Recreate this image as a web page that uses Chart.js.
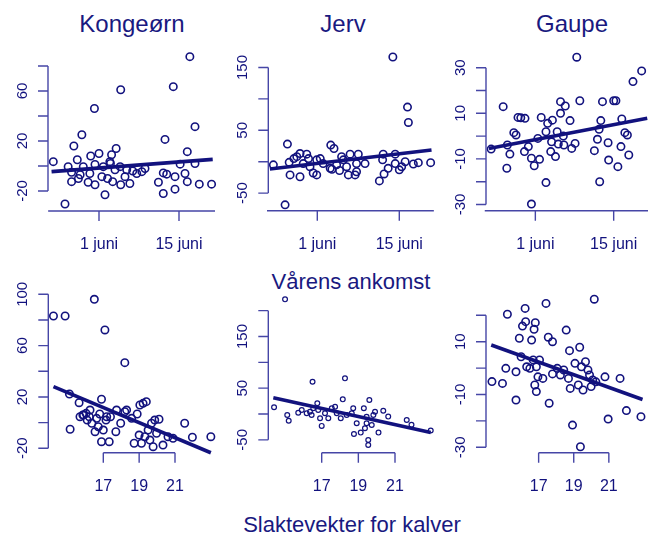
<!DOCTYPE html>
<html>
<head>
<meta charset="utf-8">
<script src="https://cdn.jsdelivr.net/npm/chart.js@4/dist/chart.umd.min.js"></script>
<style>
  body { margin: 0; background: #fff; }
  #wrap { position: relative; width: 648px; height: 542px; overflow: hidden; }
  #wrap canvas { position: absolute; left: 0; top: 0; }
  .lbl {
    position: absolute; white-space: nowrap; transform: translateX(-50%);
    font-family: 'Liberation Sans', Arial, sans-serif; color: #191980; line-height: 1;
  }
</style>
</head>
<body>
<div id="wrap">
  <div class="lbl" style="left:132px;top:12px;font-size:24px">Kongeørn</div>
  <div class="lbl" style="left:343px;top:12px;font-size:24px">Jerv</div>
  <div class="lbl" style="left:572px;top:12px;font-size:24px">Gaupe</div>
  <div class="lbl" style="left:351px;top:271px;font-size:22px">Vårens ankomst</div>
  <div class="lbl" style="left:352px;top:514px;font-size:22px">Slaktevekter for kalver</div>
</div>
<script>
// x axis of the top row: days after 1 June
const dateTickDays = [0, 14];
const dateTickLabels = ['1 juni', '15 juni'];
// x axis of the bottom row: calf weight
const weightTicks = [17, 19, 21];
const weightTickLabels = ['17', '19', '21'];

// Kongeørn (arrival)
const kongeornDays = [-8.0, -5.95, -0.8, 3.8, -3.0, -4.4, -3.8, -1.45, 0, 3.0, 2.2, 1.9, -5.4, -4.8, -4.8, -3.3, -1.9, -1.6,
  -0.7, -0.7, 0.5, 1.05, 2.4, 2.8, 3.8, 4.55, 5.4, 6.6, 7.5, 8.05, -2.75, 0.75, 3.7, 4.85, 5.9, 15.9, 13.0, 16.8,
  11.55, 15.45, 16.8, 14.2, 11.25, 11.85, 13.3, 15.05, 10.4, 11.25, 13.3, 15.45, 17.55, 19.7, -3.6, 1.5, 2.0];
const kongeornValues = [3.5, -30.4, 46, 61, 25, 16, 5, 8, 10, 14, 9, 3.5, -0.5, -5, -12.5, -7, -13, -6,
  1.3, -15, -8.5, -23, -12.5, -3, -15, -8.5, -14, -6, -4.5, -2, -0.5, -0.5, -0.5, -3, -4, 87.5, 63.5, 31.5,
  21.3, 11.5, 2, 1.5, -5.5, -6.5, -8.5, -6, -13, -22, -18.5, -12.5, -14.5, -14.5, -10, -10, 2];
const kongeornFitDays = [-8.3, 19.9];
const kongeornFitValues = [-4.5, 5.3];
const kongeornTicks = [-20, 0, 20, 40, 60, 80];
const kongeornLabels = [-20, 20, 60];

// Jerv (arrival)
const jervDays = [-5.5, -7.5, -5.1, -4.8, -4.65, -2.95, -3.5, -2.95, -1.8, -1.5, -2.4, -1.25, -0.7, -0.1, -0.1, 1.0,
  2.3, 2.85, 2.2, 3.3, 4.15, 4.45, 5.3, 5.6, 6.45, 6.7, 7.0, 6.7, 8.15, 10.6, 11.4, 12.1, 11.25, 11.15, 12.9,
  13.3, 13.3, 14.0, 14.4, 15.0, 15.4, 15.55, 16.4, 17.25, 19.35, -4.0, 2.5, 0.5, 3.8, 5.0];
const jervValues = [-68.7, -5, 28, -1, -21, -24, 8, 13, 12, 5, -3, -8, -18, -21, 3, -3,
  26.5, 21, -10.5, -5, 8, 3, -21, 12, -21, -16, 12, -3, -3, -30.6, -19.5, -10.5, 12, 3, 166.7,
  12, -3, -13, -8, 0, 87, 62.5, -3.7, -1.5, -1.5, 5, -12, 5, -14, -8];
const jervFitDays = [-8.1, 19.5];
const jervFitValues = [-11.6, 18.6];
const jervTicks = [-50, 0, 50, 100, 150];
const jervLabels = [-50, 50, 150];

// Gaupe (arrival)
const gaupeDays = [-7.9, -5.75, -5.1, -5.0, -4.55, -3.85, -3.45, -3.1, -2.6, -1.85, -1.95, -1.25, -0.7, -0.2, -0.7,
  0.75, 0.45, 1.05, 1.9, 1.9, 2.2, 2.75, 3.05, 3.6, 3.9, 4.5, 4.5, 5.35, 5.1, 6.2, 6.5, 7.1, 7.4, 7.95, 10.55,
  11.1, 11.4, 11.5, 11.7, 12.0, 13.0, 13.1, 14.0, 14.4, 14.75, 15.3, 15.45, 16.0, 16.45, 16.7, 17.45, 19.0,
  2.9, 4.1, 5.0];
const gaupeValues = [-5.7, 12.9, -14.1, -3.9, -7.9, 1.5, 0.5, 8.2, 8.0, 7.8, -6.8, -4.6, -9.7, -13, -29.8,
  -10.2, -1, 8.2, -20.4, 1.9, 5.6, -6.8, 7, -9, 1.9, 10, 15.1, 13.2, -3.9, 6.8, -5.4, -3.2, 34.6, 15.5, -6.4,
  -1.4, 3, -20, 6.8, 15.1, -2.9, -10.5, 15.5, 15.5, -13.4, -4.6, 7.5, 1.5, 0.5, -8.3, 23.9, 28.6,
  -2.5, -3.5, 0];
const gaupeFitDays = [-8.3, 20.0];
const gaupeFitValues = [-5.4, 7.8];
const gaupeTicks = [-30, -20, -10, 0, 10, 20, 30];
const gaupeLabels = [-30, -10, 10, 30];

// Kongeørn (calf weight)
const kongeornWeight = [14.22, 14.87, 16.5, 17.09, 18.2, 15.11, 15.15, 15.65, 15.7, 15.9, 16.1, 16.26, 16.54, 16.8,
  16.9, 16.9, 17.0, 17.15, 17.33, 17.4, 17.7, 17.74, 17.97, 18.2, 18.3, 18.58, 18.72, 18.89, 19.0, 19.04, 19.22,
  19.4, 19.13, 19.32, 19.5, 19.6, 19.69, 19.78, 19.87, 19.97, 20.11, 20.33, 20.61, 20.89, 21.54, 21.97, 23.0,
  15.86, 16.04, 16.22, 16.36, 16.63, 16.72, 17.19];
const kongeornWeightValues = [83.1, 83.1, 96.1, 72.2, 46.7, 22.3, -5.2, 15.5, 4.6, 6, 2, 9.8, -7.1, 6.7,
  18.2, -14.9, -5.8, 2, -14.9, 4.6, -7.1, 9.8, -0.5, 8.5, 9.8, 3.3, -16.1, 6.7, -9.7, 13.7, 15,
  16.3, -16.1, -11, -5.8, -13.6, -0.5, -18.8, 2, -8.3, 2.6, -17.5, -11, -12.2, -0.5, -11.4, -11,
  5.9, 7.2, 4.6, -0.5, 3.3, -3.2, 4.6];
const kongeornWeightFit = [14.22, 23.0];
const kongeornWeightFitValues = [28, -23.5];
const kongeornWeightTicks = [-20, 0, 20, 40, 60, 80, 100];
const kongeornWeightLabels = [-20, 20, 60, 100];

// Jerv (calf weight)
const jervWeight = [15.0, 14.4, 15.12, 15.2, 15.72, 15.91, 16.18, 16.36, 16.45, 16.54, 16.5, 16.76, 16.81, 16.91,
  17.0, 17.18, 17.36, 17.55, 17.73, 17.82, 18.04, 18.15, 18.27, 18.36, 18.64, 18.72, 18.91, 18.76, 19.13, 19.3,
  19.36, 19.45, 19.54, 19.54, 19.6, 19.45, 19.73, 19.82, 19.91, 20.1, 20.36, 20.63, 21.64, 21.9, 22.95];
const jervWeightValues = [221.9, 13, -1.9, -13, 2.5, 7.7, 1.4, 4.5, -1.9, 11, 62.5, 20.7, 7.7, -8.3,
  -23, 1.4, -8.3, 11, 14.1, 1.4, -8.3, 28.4, 69, -1.9, 1.4, 11, -18, -38.7, -36, 11,
  -27.7, -18, -50.3, -60, 27, -5.2, -21.3, -1.9, 4.5, -36, 6.4, -5, -11.6, -21, -32];
const jervWeightFit = [14.36, 22.95];
const jervWeightFitValues = [31.5, -36];
const jervWeightTicks = [-50, 0, 50, 100, 150, 200];
const jervWeightLabels = [-50, 50, 150];

// Gaupe (calf weight)
const gaupeWeight = [14.34, 14.94, 15.13, 15.22, 15.71, 15.71, 15.9, 16.0, 16.08, 16.23, 16.26, 16.32, 16.6, 16.5,
  16.69, 16.78, 16.87, 16.96, 16.74, 16.81, 16.87, 17.05, 17.24, 17.42, 17.55, 17.6, 17.79, 17.79, 18.06, 18.24,
  18.43, 18.57, 18.7, 18.76, 18.8, 18.93, 19.07, 19.26, 19.34, 19.38, 19.44, 19.53, 19.67, 19.81, 19.9, 19.99,
  20.08, 20.26, 20.17, 20.78, 20.96, 21.64, 22.0, 22.83];
const gaupeWeightValues = [-5.1, -5.8, -0.1, 20.4, -12.1, -1.4, 11.3, 4.3, 15.9, 22.6, 17.6, 0.5, 10.6, -0.1,
  3.1, -6.4, 0.5, -3.3, 14.7, 17.2, -8.9, 3.1, -3.9, 24.5, 11.7, -13.3, 10, -2.2, -0.1, -2.6,
  -0.7, 14.4, -3.9, 6.6, -7.7, -21.6, 1.8, -6.4, 7.9, -29.8, 0.5, -8.3, 2.4, -0.7, -2.6, -7,
  -4.5, -5.2, 26.1, -3.3, -19.3, -3.9, -16.1, -18.4];
const gaupeWeightFit = [14.3, 22.92];
const gaupeWeightFitValues = [8.75, -11.9];
const gaupeWeightTicks = [-30, -20, -10, 0, 10, 20];
const gaupeWeightLabels = [-30, -10, 10];

const NAVY = '#12127e';
const AXIS = '#4646a6';
const FONT = "'Liberation Sans', Arial, sans-serif";

// value range that makes pixel p0 -> v0 and p1 -> v1 over the pixels lo..hi
function span(p0, v0, p1, v1, lo, hi) {
  const k = (v1 - v0) / (p1 - p0);
  return [v0 + (lo - p0) * k, v0 + (hi - p0) * k];
}

// R style detached axes, drawn through the chart's own scales
const rAxes = {
  id: 'rAxes',
  afterDraw(chart, args, o) {
    const { ctx, scales: { x, y } } = chart;
    ctx.save();
    ctx.strokeStyle = AXIS;
    ctx.lineWidth = 1.4;
    ctx.fillStyle = NAVY;

    // y axis
    const yTop = y.getPixelForValue(o.yTicks[o.yTicks.length - 1]);
    const yBot = y.getPixelForValue(o.yTicks[0]);
    ctx.beginPath();
    ctx.moveTo(o.axisX, yTop);
    ctx.lineTo(o.axisX, yBot);
    o.yTicks.forEach(v => {
      const py = y.getPixelForValue(v);
      ctx.moveTo(o.axisX, py);
      ctx.lineTo(o.axisX - 10, py);
    });
    ctx.stroke();
    ctx.font = '15px ' + FONT;
    ctx.textAlign = 'center';
    ctx.textBaseline = 'middle';
    o.yLabels.forEach(v => {
      ctx.save();
      ctx.translate(o.axisX - 25, y.getPixelForValue(v));
      ctx.rotate(-Math.PI / 2);
      ctx.fillText(String(v), 0, 0);
      ctx.restore();
    });

    // x axis
    ctx.beginPath();
    ctx.moveTo(x.getPixelForValue(o.xLine[0]), o.axisY);
    ctx.lineTo(x.getPixelForValue(o.xLine[1]), o.axisY);
    o.xTicks.forEach(v => {
      const px = x.getPixelForValue(v);
      ctx.moveTo(px, o.axisY);
      ctx.lineTo(px, o.axisY + 10);
    });
    ctx.stroke();
    ctx.font = '16px ' + FONT;
    o.xTicks.forEach((v, i) => {
      ctx.fillText(o.xTickLabels[i], x.getPixelForValue(v), o.axisY + 34);
    });
    ctx.restore();
  }
};

const panels = [
  { xs: kongeornDays, ys: kongeornValues, fx: kongeornFitDays, fy: kongeornFitValues,
    yTicks: kongeornTicks, yLabels: kongeornLabels, xTicks: dateTickDays, xTickLabels: dateTickLabels,
    xLine: [-8.9, 20.3], box: [40, 40, 218, 222], xa: [99, 0, 179, 14], ya: [166, 0, 66, 80],
    axisX: 48, axisY: 211, r: 3.7, bw: 1.6 },
  { xs: jervDays, ys: jervValues, fx: jervFitDays, fy: jervFitValues,
    yTicks: jervTicks, yLabels: jervLabels, xTicks: dateTickDays, xTickLabels: dateTickLabels,
    xLine: [-8.59, 19.9], box: [260, 40, 438, 222], xa: [317.3, 0, 399.3, 14], ya: [161.7, 0, 67.5, 150],
    axisX: 268.3, axisY: 210.7, r: 3.7, bw: 1.6 },
  { xs: gaupeDays, ys: gaupeValues, fx: gaupeFitDays, fy: gaupeFitValues,
    yTicks: gaupeTicks, yLabels: gaupeLabels, xTicks: dateTickDays, xTickLabels: dateTickLabels,
    xLine: [-9.04, 20.5], box: [478, 40, 648, 222], xa: [537.3, 0, 618.3, 14], ya: [136.1, 0, 67.7, 30],
    axisX: 486, axisY: 210.7, r: 3.7, bw: 1.6 },
  { xs: kongeornWeight, ys: kongeornWeightValues, fx: kongeornWeightFit, fy: kongeornWeightFitValues,
    yTicks: kongeornWeightTicks, yLabels: kongeornWeightLabels, xTicks: weightTicks, xTickLabels: weightTickLabels,
    xLine: [17, 21], box: [40, 285, 218, 462], xa: [103.3, 17, 175, 21], ya: [422.6, 0, 294.3, 100],
    axisX: 48.3, axisY: 452.7, r: 3.7, bw: 1.6 },
  { xs: jervWeight, ys: jervWeightValues, fx: jervWeightFit, fy: jervWeightFitValues,
    yTicks: jervWeightTicks, yLabels: jervWeightLabels, xTicks: weightTicks, xTickLabels: weightTickLabels,
    xLine: [17, 21], box: [260, 285, 438, 462], xa: [321.7, 17, 395, 21], ya: [414, 0, 336.5, 150],
    axisX: 268.3, axisY: 452.7, r: 2.4, bw: 1.2 },
  { xs: gaupeWeight, ys: gaupeWeightValues, fx: gaupeWeightFit, fy: gaupeWeightFitValues,
    yTicks: gaupeWeightTicks, yLabels: gaupeWeightLabels, xTicks: weightTicks, xTickLabels: weightTickLabels,
    xLine: [17, 21], box: [478, 285, 648, 462], xa: [540.7, 17, 613.3, 21], ya: [368.1, 0, 341.7, 10],
    axisX: 486, axisY: 452.7, r: 3.7, bw: 1.6 },
];

const wrap = document.getElementById('wrap');

panels.forEach(p => {
  const canvas = document.createElement('canvas');
  canvas.width = 648;
  canvas.height = 542;
  wrap.appendChild(canvas);

  const [left, top, right, bottom] = p.box;
  const [xmin, xmax] = span(p.xa[0], p.xa[1], p.xa[2], p.xa[3], left, right);
  const [ymax, ymin] = span(p.ya[0], p.ya[1], p.ya[2], p.ya[3], top, bottom);

  new Chart(canvas.getContext('2d'), {
    type: 'scatter',
    data: {
      datasets: [
        {
          data: p.xs.map((x, i) => ({ x, y: p.ys[i] })),
          borderColor: NAVY,
          backgroundColor: 'transparent',
          pointRadius: p.r,
          pointBorderWidth: p.bw,
          clip: false,
        },
        {
          type: 'line',
          data: p.fx.map((x, i) => ({ x, y: p.fy[i] })),
          borderColor: NAVY,
          borderWidth: 3.6,
          pointRadius: 0,
          fill: false,
          clip: false,
        },
      ],
    },
    options: {
      responsive: false,
      animation: false,
      devicePixelRatio: 1,
      layout: { padding: { left, top, right: 648 - right, bottom: 542 - bottom } },
      scales: {
        x: { type: 'linear', min: xmin, max: xmax, display: false },
        y: { type: 'linear', min: ymin, max: ymax, display: false },
      },
      plugins: {
        legend: { display: false },
        tooltip: { enabled: false },
        rAxes: p,
      },
    },
    plugins: [rAxes],
  });
});
</script>
</body>
</html>
